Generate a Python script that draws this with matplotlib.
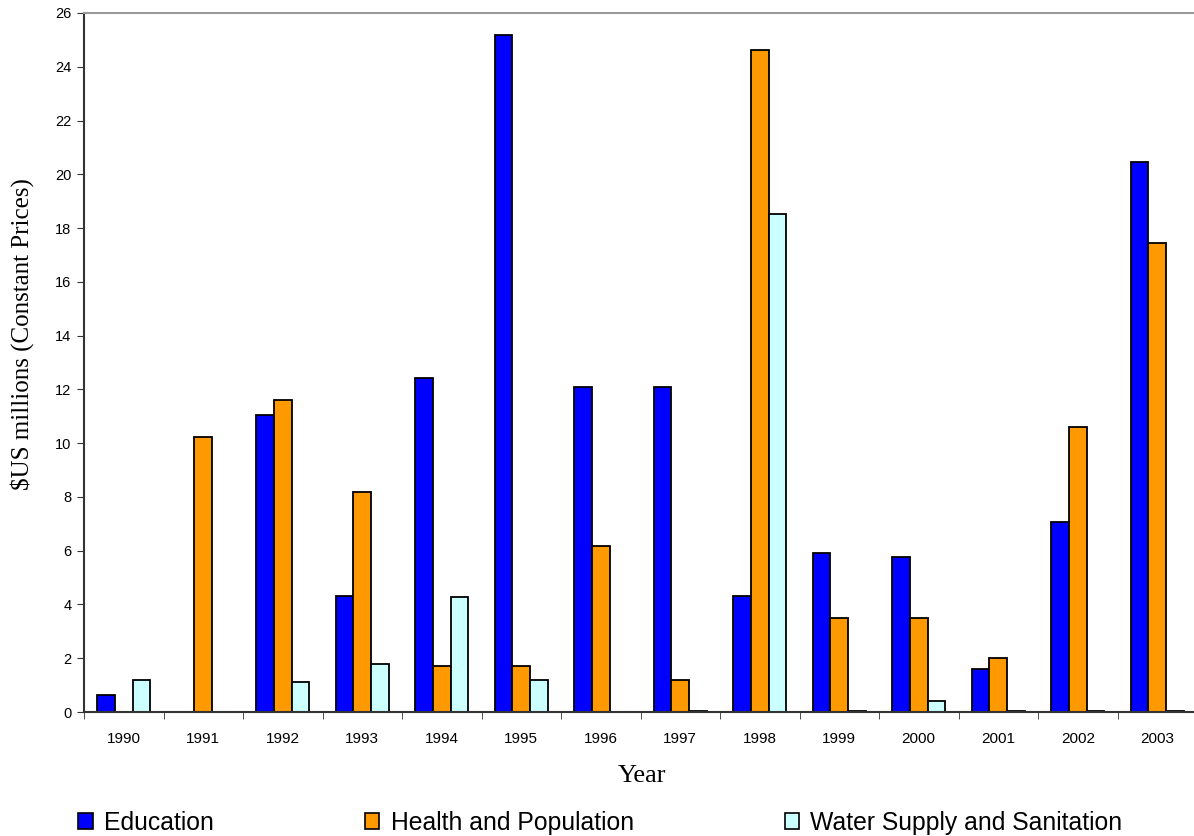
import numpy as np
import matplotlib
matplotlib.use("Agg")
import matplotlib.pyplot as plt
from matplotlib.patches import Patch

years = ['1990', '1991', '1992', '1993', '1994', '1995', '1996',
         '1997', '1998', '1999', '2000', '2001', '2002', '2003']
education = [0.63, 0, 11.05, 4.3, 12.42, 25.2, 12.1, 12.1, 4.3, 5.92, 5.77, 1.6, 7.07, 20.46]
health = [0, 10.23, 11.6, 8.18, 1.7, 1.7, 6.18, 1.2, 24.63, 3.5, 3.5, 2.0, 10.6, 17.45]
water = [1.2, 0, 1.12, 1.78, 4.29, 1.2, 0, 0.05, 18.52, 0.05, 0.4, 0.05, 0.05, 0.05]

names = ['Education', 'Health and Population', 'Water Supply and Sanitation']
colors = ['#0000FF', '#FF9900', '#CCFFFF']

fig = plt.figure(figsize=(11.94, 8.36), dpi=100)
ax = fig.add_axes([84/1194, 124/836, 1113/1194, 699/836])

x = np.arange(len(years)) + 0.5
w = 1/4.5
for k, (vals, c) in enumerate(zip([education, health, water], colors)):
    ax.bar(x + (k-1)*w, vals, width=w, color=c, edgecolor='black', linewidth=1.3)

ax.set_xlim(0, len(years))
ax.set_ylim(0, 26)
ax.set_yticks(np.arange(0, 27, 2))
ax.set_xticks(x)
ax.set_xticklabels(years, fontfamily='Liberation Sans', fontsize=11)
ax.set_xticks(np.arange(0, len(years)+1), minor=True)
ax.tick_params(axis='x', which='major', length=0, pad=14.4)
ax.tick_params(axis='x', which='minor', length=5, direction='out', color='#333333')
ax.tick_params(axis='y', length=5, direction='out', color='#333333', pad=4)
for lab in ax.get_yticklabels():
    lab.set_fontfamily('Liberation Sans')
    lab.set_fontsize(10.5)

ax.spines['top'].set_color('#999999')
ax.spines['top'].set_linewidth(1.5)
ax.spines['right'].set_visible(False)
ax.spines['left'].set_color('#333333')
ax.spines['left'].set_linewidth(1.5)
ax.spines['bottom'].set_color('#333333')
ax.spines['bottom'].set_linewidth(1.5)

fig.text(22/1194, 1 - 334/836, '\\$US millions (Constant Prices)', fontfamily='Liberation Serif',
         fontsize=18, rotation=90, ha='center', va='center')
fig.text(642/1194, 1 - 776/836, 'Year', fontfamily='Liberation Serif', fontsize=19,
         ha='center', va='center')

handles = [Patch(facecolor=c, edgecolor='black', linewidth=1.2) for c in colors]
fig.legend(handles, names, loc='center left', bbox_to_anchor=(78/1194, 1 - 823/836),
           ncol=3, frameon=False, prop={'family': 'Liberation Sans', 'size': 17.8},
           handlelength=0.6, handleheight=0.6, handletextpad=0.45, columnspacing=6.1,
           borderaxespad=0, borderpad=0)

fig.savefig('out.png', dpi=100)
